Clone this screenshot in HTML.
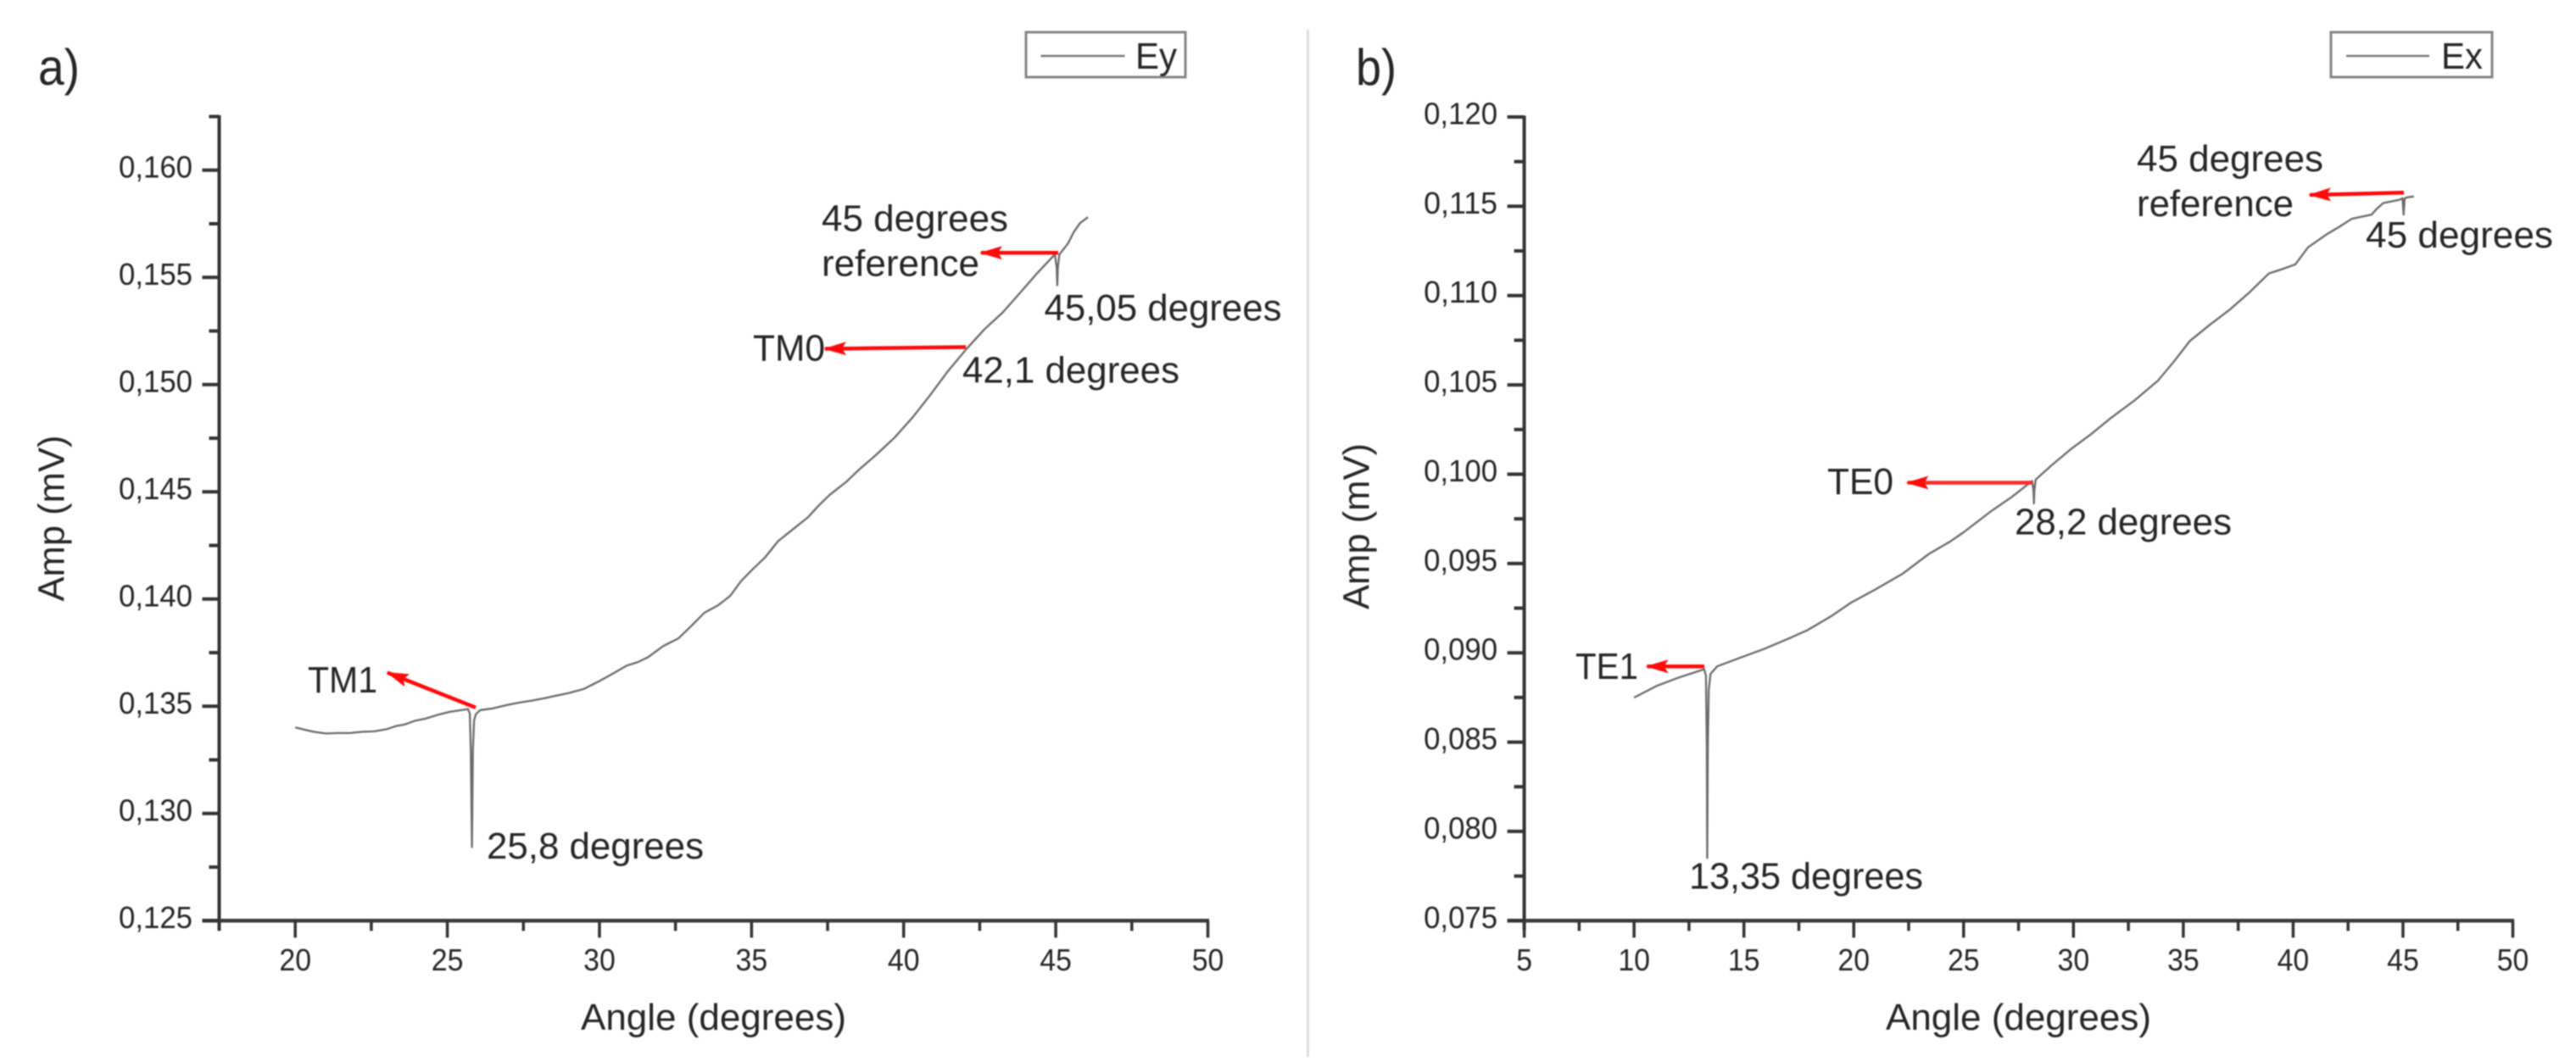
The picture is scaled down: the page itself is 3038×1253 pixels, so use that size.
<!DOCTYPE html>
<html lang="en">
<head>
<meta charset="utf-8">
<title>Amp vs Angle, Ey and Ex</title>
<style>
html,body{margin:0;padding:0;background:#fff;width:3038px;height:1253px;overflow:hidden}
svg{display:block;filter:blur(0.8px)}
text{font-family:"Liberation Sans",sans-serif;fill:#262626}
.ann{font-size:44px}
</style>
</head>
<body>
<svg id="figure" xmlns="http://www.w3.org/2000/svg" width="3038" height="1253" viewBox="0 0 3038 1253">
  <defs>
    <marker id="red-head" viewBox="0 0 27 16" refX="25" refY="8" markerWidth="27" markerHeight="16" markerUnits="userSpaceOnUse" orient="auto">
      <path d="M0 0 L27 8 L0 16 L5 8 Z" fill="#ff0a0a"/>
    </marker>
  </defs>
  <rect x="1541" y="35" width="3" height="1212" fill="#dcdcdc"/>

  <text x="45" y="100" font-size="60" textLength="49" lengthAdjust="spacingAndGlyphs">a)</text>
  <text x="1599" y="100" font-size="60" textLength="48" lengthAdjust="spacingAndGlyphs">b)</text>

  <g id="chart-a"></g>
  <g id="chart-b"></g>

  <text font-size="44" transform="translate(75.5 709.5) rotate(-90)" textLength="196" lengthAdjust="spacingAndGlyphs">Amp (mV)</text>
  <text x="685" y="1215" font-size="44" textLength="313" lengthAdjust="spacingAndGlyphs">Angle (degrees)</text>
  <text font-size="44" transform="translate(1614.4 719) rotate(-90)" textLength="196" lengthAdjust="spacingAndGlyphs">Amp (mV)</text>
  <text x="2224" y="1215" font-size="44" textLength="313" lengthAdjust="spacingAndGlyphs">Angle (degrees)</text>

  <g>
    <rect x="1210" y="38" width="188" height="53" fill="#fff" stroke="#858585" stroke-width="3"/>
    <line x1="1227.5" y1="66" x2="1326.5" y2="66" stroke="#777" stroke-width="2.5"/>
    <text class="ann" x="1339" y="81" textLength="49" lengthAdjust="spacingAndGlyphs">Ey</text>
  </g>
  <g>
    <rect x="2749" y="38" width="190" height="53" fill="#fff" stroke="#858585" stroke-width="3"/>
    <line x1="2767" y1="66" x2="2865" y2="66" stroke="#777" stroke-width="2.5"/>
    <text class="ann" x="2879" y="81" textLength="49" lengthAdjust="spacingAndGlyphs">Ex</text>
  </g>

  <g>
    <text class="ann" x="969" y="272.5" textLength="220" lengthAdjust="spacingAndGlyphs">45 degrees</text>
    <text class="ann" x="969" y="325.5" textLength="186" lengthAdjust="spacingAndGlyphs">reference</text>
    <text class="ann" x="1231.5" y="378" textLength="280" lengthAdjust="spacingAndGlyphs">45,05 degrees</text>
    <text class="ann" x="888" y="425.5" textLength="85" lengthAdjust="spacingAndGlyphs">TM0</text>
    <text class="ann" x="1135" y="451.5" textLength="256" lengthAdjust="spacingAndGlyphs">42,1 degrees</text>
    <text class="ann" x="363" y="817" textLength="82" lengthAdjust="spacingAndGlyphs">TM1</text>
    <text class="ann" x="574" y="1013" textLength="256" lengthAdjust="spacingAndGlyphs">25,8 degrees</text>
    <line x1="1248" y1="298.3" x2="1157" y2="298.3" stroke="#ff0a0a" stroke-width="4.5" marker-end="url(#red-head)"/>
    <line x1="1139" y1="409.5" x2="973" y2="411.5" stroke="#ff0a0a" stroke-width="4.5" marker-end="url(#red-head)"/>
    <line x1="561" y1="834.8" x2="457" y2="793.6" stroke="#ff0a0a" stroke-width="4.5" marker-end="url(#red-head)"/>
  </g>
  <g>
    <text class="ann" x="2520" y="202" textLength="220" lengthAdjust="spacingAndGlyphs">45 degrees</text>
    <text class="ann" x="2520" y="255" textLength="185" lengthAdjust="spacingAndGlyphs">reference</text>
    <text class="ann" x="2790" y="292" textLength="221" lengthAdjust="spacingAndGlyphs">45 degrees</text>
    <text class="ann" x="2155" y="583" textLength="78" lengthAdjust="spacingAndGlyphs">TE0</text>
    <text class="ann" x="2376" y="630.5" textLength="256" lengthAdjust="spacingAndGlyphs">28,2 degrees</text>
    <text class="ann" x="1858" y="801" textLength="74" lengthAdjust="spacingAndGlyphs">TE1</text>
    <text class="ann" x="1992" y="1048.7" textLength="276" lengthAdjust="spacingAndGlyphs">13,35 degrees</text>
    <line x1="2835" y1="227.3" x2="2724" y2="230" stroke="#ff0a0a" stroke-width="4.5" marker-end="url(#red-head)"/>
    <line x1="2396.5" y1="569.5" x2="2249.5" y2="569.5" stroke="#ff2a2a" stroke-width="4.5" marker-end="url(#red-head)"/>
    <line x1="2010" y1="786.3" x2="1942.5" y2="786.3" stroke="#ff0a0a" stroke-width="4.5" marker-end="url(#red-head)"/>
  </g>
</svg>
<script>
/* Panel a: Ey */
const anglesEy = [20,20.3,20.6,21,21.4,21.8,22.2,22.6,23,23.3,23.6,23.95,24.3,24.7,25.08,25.4,25.68,25.74,25.77,25.81,25.84,25.88,25.94,26.08,26.5,27,27.36,27.8,28.2,28.6,29,29.49,29.99,30.4,30.9,31.25,31.6,32.1,32.6,33,33.45,33.9,34.3,34.65,35.01,35.45,35.87,36.4,36.86,37.2,37.57,38.1,38.56,39.1,39.7,40.3,40.85,41.45,42.05,42.65,43.26,43.8,44.4,44.97,45.03,45.05,45.07,45.12,45.4,45.6,45.8,46.06];
const ampEy = [0.13401,0.13391,0.13381,0.13373,0.13375,0.13375,0.13381,0.13383,0.13393,0.13407,0.13415,0.13433,0.13443,0.13461,0.13474,0.13481,0.13487,0.13465,0.13296,0.12843,0.13296,0.13435,0.13463,0.13482,0.1349,0.13507,0.13517,0.13527,0.13538,0.1355,0.13562,0.13581,0.13617,0.13649,0.1369,0.13705,0.13729,0.13781,0.13817,0.13872,0.13936,0.13971,0.14015,0.14083,0.14135,0.14195,0.1427,0.1433,0.14382,0.14435,0.14486,0.14545,0.14607,0.14673,0.14753,0.14848,0.14947,0.15062,0.15164,0.15257,0.15337,0.15424,0.15521,0.15607,0.15547,0.15463,0.15547,0.15607,0.15658,0.15713,0.15753,0.15781];
const xTicksA = [20,25,30,35,40,45,50];
const xTickLabelsA = ['20','25','30','35','40','45','50'];
const xMinorA = [17.5,22.5,27.5,32.5,37.5,42.5,47.5];
const yTicksA = [0.125,0.13,0.135,0.14,0.145,0.15,0.155,0.16];
const yTickLabelsA = ['0,125','0,130','0,135','0,140','0,145','0,150','0,155','0,160'];
const yMinorA = [0.1275,0.1325,0.1375,0.1425,0.1475,0.1525,0.1575,0.1625];

/* Panel b: Ex */
const anglesEx = [10,11,12,13.19,13.27,13.31,13.33,13.36,13.4,13.48,13.78,14.8,15.94,17,17.9,19,19.88,21,22.24,23.4,24.4,25,26.2,27.2,28.12,28.18,28.2,28.22,28.28,29,29.85,30.8,31.66,32.8,33.84,34.6,35.3,36.2,37.1,38,38.9,39.5,40.1,40.68,41.5,42.1,42.66,43.1,43.57,43.8,44.1,44.5,44.85,44.98,45.03,45.08,45.2,45.5];
const ampEx = [0.08749,0.08813,0.0886,0.08908,0.08872,0.08495,0.07851,0.08495,0.08792,0.08882,0.08924,0.08971,0.09023,0.09078,0.09127,0.09207,0.09281,0.09356,0.09444,0.09552,0.09624,0.09675,0.09788,0.09873,0.09962,0.09908,0.09836,0.09908,0.0997,0.10049,0.10137,0.10224,0.1031,0.10415,0.10523,0.10635,0.10746,0.10836,0.1092,0.11017,0.11124,0.11148,0.11175,0.1127,0.11341,0.11385,0.11429,0.11441,0.11453,0.11485,0.11518,0.11528,0.11537,0.11545,0.11453,0.11545,0.1155,0.11555];
const xTicksB = [5,10,15,20,25,30,35,40,45,50];
const xTickLabelsB = ['5','10','15','20','25','30','35','40','45','50'];
const xMinorB = [7.5,12.5,17.5,22.5,27.5,32.5,37.5,42.5,47.5];
const yTicksB = [0.075,0.08,0.085,0.09,0.095,0.1,0.105,0.11,0.115,0.12];
const yTickLabelsB = ['0,075','0,080','0,085','0,090','0,095','0,100','0,105','0,110','0,115','0,120'];
const yMinorB = [0.0775,0.0825,0.0875,0.0925,0.0975,0.1025,0.1075,0.1125,0.1175];

const NS = 'http://www.w3.org/2000/svg';
function make(parent, tag, attrs) {
  const node = document.createElementNS(NS, tag);
  for (const key in attrs) node.setAttribute(key, attrs[key]);
  parent.appendChild(node);
  return node;
}

function drawChart(cfg) {
  const g = document.getElementById(cfg.id);
  const sx = v => cfg.x0 + (v - cfg.xMin) * (cfg.x1 - cfg.x0) / (cfg.xMax - cfg.xMin);
  const sy = v => cfg.y0 + (v - cfg.yMin) * (cfg.y1 - cfg.y0) / (cfg.yMax - cfg.yMin);
  const left = sx(cfg.xMin), bottom = sy(cfg.yMin);

  const yAxis = make(g, 'line', {x1: left, y1: sy(cfg.yMax) - 1.5, x2: left, y2: bottom + 11, stroke: '#333', 'stroke-width': 4});
  
  
  const xAxis = make(g, 'line', {x1: left - 20, y1: bottom, x2: sx(cfg.xMax) + 1.5, y2: bottom, stroke: '#3c3c3c', 'stroke-width': 4.5});
  
  

  cfg.yTicks.forEach((v, i) => {
    const tick = make(g, 'line', {x1: left - 20, y1: sy(v), x2: left, y2: sy(v), stroke: '#333', 'stroke-width': 4});
    
    
    const label = make(g, 'text', {x: left - 31.5, y: sy(v) + 8.5, 'font-size': 36, 'text-anchor': 'end', textLength: 87, lengthAdjust: 'spacingAndGlyphs'});
    
    
    label.textContent = cfg.yLabels[i];
  });
  cfg.yMinor.forEach(v => {
    const tick = make(g, 'line', {x1: left - 12, y1: sy(v), x2: left, y2: sy(v), stroke: '#333', 'stroke-width': 4});
    
    
  });
  cfg.xTicks.forEach((v, i) => {
    const tick = make(g, 'line', {x1: sx(v), y1: bottom, x2: sx(v), y2: bottom + 20, stroke: '#333', 'stroke-width': 3.5});
    
    
    const text = cfg.xLabels[i];
    const label = make(g, 'text', {x: sx(v), y: 1145, 'font-size': 36, 'text-anchor': 'middle', textLength: text.length * 18.8, lengthAdjust: 'spacingAndGlyphs'});
    
    
    label.textContent = text;
  });
  cfg.xMinor.forEach(v => {
    const tick = make(g, 'line', {x1: sx(v), y1: bottom, x2: sx(v), y2: bottom + 12, stroke: '#333', 'stroke-width': 3.5});
    
    
  });

  const pts = cfg.xs.map((a, i) => sx(a).toFixed(1) + ',' + sy(cfg.ys[i]).toFixed(1)).join(' ');
  const curve = make(g, 'polyline', {points: pts, fill: 'none', stroke: '#6a6a6a', 'stroke-width': 2.3, 'stroke-linejoin': 'round'});
  
  
}

drawChart({id: 'chart-a', seriesName: 'series-ey-line', xMin: 17.5, xMax: 50, x0: 258.5, x1: 1424.5, yMin: 0.125, yMax: 0.1625, y0: 1086.3, y1: 137.5,
  xs: anglesEy, ys: ampEy, xTicks: xTicksA, xLabels: xTickLabelsA, xMinor: xMinorA, yTicks: yTicksA, yLabels: yTickLabelsA, yMinor: yMinorA});
drawChart({id: 'chart-b', seriesName: 'series-ex-line', xMin: 5, xMax: 50, x0: 1797.6, x1: 2963.5, yMin: 0.075, yMax: 0.12, y0: 1086.3, y1: 138,
  xs: anglesEx, ys: ampEx, xTicks: xTicksB, xLabels: xTickLabelsB, xMinor: xMinorB, yTicks: yTicksB, yLabels: yTickLabelsB, yMinor: yMinorB});
</script>
</body>
</html>
